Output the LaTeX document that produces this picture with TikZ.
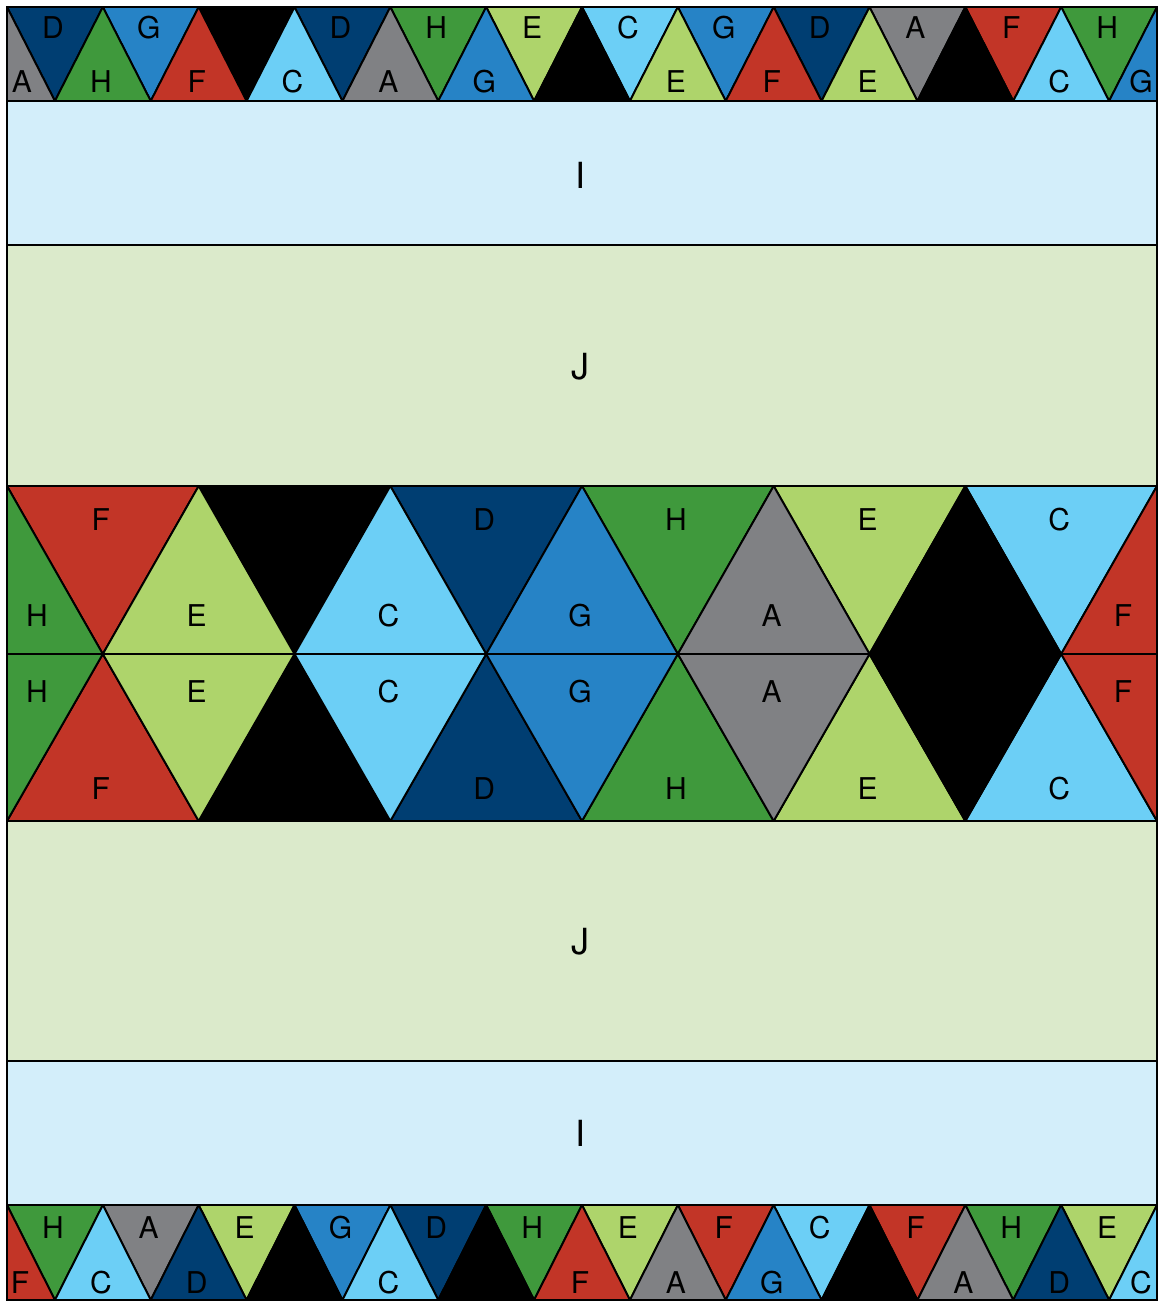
\documentclass[tikz,border=0pt]{standalone}
\usepackage{fontspec}
\setmainfont{TeX Gyre Heros}
\definecolor{colA}{RGB}{128,129,132}
\definecolor{colC}{RGB}{108,207,246}
\definecolor{colD}{RGB}{0,62,114}
\definecolor{colE}{RGB}{174,212,107}
\definecolor{colF}{RGB}{194,53,39}
\definecolor{colG}{RGB}{38,131,198}
\definecolor{colH}{RGB}{63,153,60}
\definecolor{colK}{RGB}{0,0,0}
\definecolor{colI}{RGB}{211,238,250}
\definecolor{colJ}{RGB}{219,234,203}
\begin{document}
\begin{tikzpicture}[x=1pt,y=-1pt,
  tri/.style={draw=black,line width=1.9pt,line join=round},
  lbl/.style={font=\fontsize{30}{36}\selectfont,inner sep=0pt,text=black},
  bandlbl/.style={font=\fontsize{36}{42}\selectfont,inner sep=0pt,text=black},
  edgeline/.style={draw=black,line width=1.9pt}]
\useasboundingbox (0,0) rectangle (1158,1302);
\def\p{95.8333}
\def\q{191.6667}

% ---------- top strip ----------
\begin{scope}
\clip (7,7) rectangle (1157,101);
\fill[black] (7,7) rectangle (1157,101);
\foreach \c [count=\k from 0] in {D,G,K,D,H,E,C,G,D,A,F,H}{
  \filldraw[tri,fill=col\c] ({7+\k*\p},7) -- ({7+(\k+1)*\p},7) -- ({7+(\k+0.5)*\p},101) -- cycle;}
\foreach \c [count=\k from 0] in {A,H,F,C,A,G,K,E,F,E,K,C,G}{
  \filldraw[tri,fill=col\c] ({7+\k*\p},7) -- ({7+(\k+0.5)*\p},101) -- ({7+(\k-0.5)*\p},101) -- cycle;}
\end{scope}
\foreach \k/\c in {0/D,1/G,3/D,4/H,5/E,6/C,7/G,8/D,9/A,10/F,11/H}{
  \node[lbl] (td\k) at ({5+(\k+0.5)*\p},28) {\c};}
\foreach \k/\c in {0/A,1/H,2/F,3/C,4/A,5/G,7/E,8/F,9/E,11/C,12/G}{
  \pgfmathsetmacro\lx{max(22,min(1141,5+\k*\p))}
  \node[lbl] (tu\k) at (\lx,82) {\c};}

% ---------- middle section ----------
\begin{scope}
\clip (7,486) rectangle (1157,821);
\foreach \c [count=\k from 0] in {F,K,D,H,E,C}{
  \filldraw[tri,fill=col\c] ({7+\k*\q},486) -- ({7+(\k+1)*\q},486) -- ({7+(\k+0.5)*\q},654) -- cycle;
  \filldraw[tri,fill=col\c] ({7+\k*\q},821) -- ({7+(\k+1)*\q},821) -- ({7+(\k+0.5)*\q},654) -- cycle;}
\foreach \c [count=\k from 0] in {H,E,C,G,A,K,F}{
  \filldraw[tri,fill=col\c] ({7+\k*\q},486) -- ({7+(\k+0.5)*\q},654) -- ({7+(\k-0.5)*\q},654) -- cycle;
  \filldraw[tri,fill=col\c] ({7+\k*\q},821) -- ({7+(\k+0.5)*\q},654) -- ({7+(\k-0.5)*\q},654) -- cycle;}
\end{scope}
\foreach \k/\c in {0/F,2/D,3/H,4/E,5/C}{
  \node[lbl] (mtd\k) at ({5+(\k+0.5)*\q},520) {\c};
  \node[lbl] (mbu\k) at ({5+(\k+0.5)*\q},789) {\c};}
\foreach \k/\c in {0/H,1/E,2/C,3/G,4/A,6/F}{
  \pgfmathsetmacro\lx{max(37,min(1123,5+\k*\q))}
  \node[lbl] (mtu\k) at (\lx,616) {\c};
  \node[lbl] (mbd\k) at (\lx,692) {\c};}

% ---------- bottom strip ----------
\begin{scope}
\clip (7,1205) rectangle (1157,1300);
\fill[black] (7,1205) rectangle (1157,1300);
\foreach \c [count=\k from 0] in {H,A,E,G,D,H,E,F,C,F,H,E}{
  \filldraw[tri,fill=col\c] ({7+\k*\p},1205) -- ({7+(\k+1)*\p},1205) -- ({7+(\k+0.5)*\p},1300) -- cycle;}
\foreach \c [count=\k from 0] in {F,C,D,K,C,K,F,A,G,K,A,D,C}{
  \filldraw[tri,fill=col\c] ({7+\k*\p},1205) -- ({7+(\k+0.5)*\p},1300) -- ({7+(\k-0.5)*\p},1300) -- cycle;}
\end{scope}
\foreach \k/\c in {0/H,1/A,2/E,3/G,4/D,5/H,6/E,7/F,8/C,9/F,10/H,11/E}{
  \node[lbl] (bd\k) at ({5+(\k+0.5)*\p},1228) {\c};}
\foreach \k/\c in {0/F,1/C,2/D,4/C,6/F,7/A,8/G,10/A,11/D,12/C}{
  \pgfmathsetmacro\lx{max(20,min(1141,5+\k*\p))}
  \node[lbl] (bu\k) at (\lx,1283) {\c};}

% ---------- bands ----------
\filldraw[edgeline,fill=colI] (7,101) rectangle (1157,245);
\filldraw[edgeline,fill=colJ] (7,245) rectangle (1157,486);
\filldraw[edgeline,fill=colJ] (7,821) rectangle (1157,1061);
\filldraw[edgeline,fill=colI] (7,1061) rectangle (1157,1205);
\node[bandlbl] (i1) at (580,175) {I};
\node[bandlbl] (j1) at (580,367) {J};
\node[bandlbl] (j2) at (580,942) {J};
\node[bandlbl] (i2) at (580,1133) {I};

% ---------- frame ----------
\draw[edgeline] (7,7) rectangle (1157,1300);
\end{tikzpicture}
\end{document}
